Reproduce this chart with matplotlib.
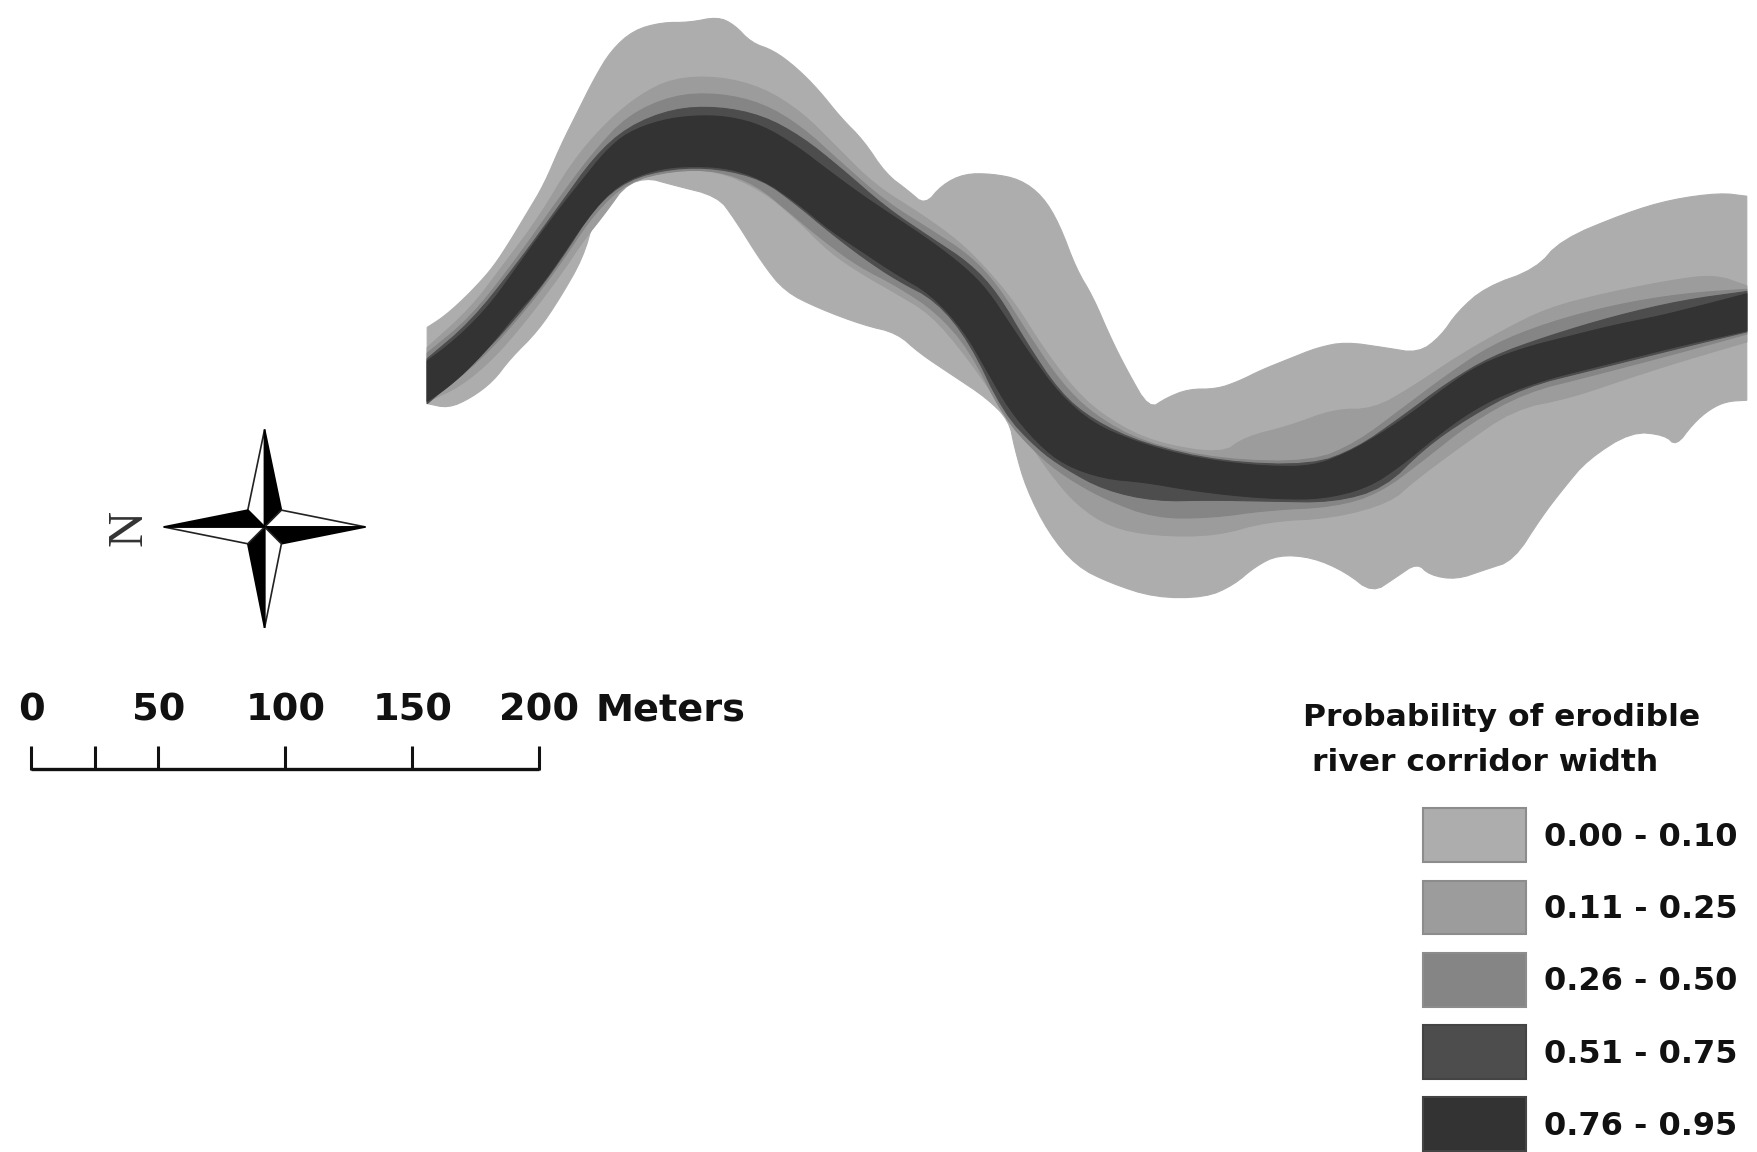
import matplotlib
matplotlib.use("Agg")
import matplotlib.pyplot as plt
from matplotlib.patches import Polygon, Rectangle

# legend classes, lightest (widest) to darkest
class_labels = ["0.00 - 0.10", "0.11 - 0.25", "0.26 - 0.50", "0.51 - 0.75", "0.76 - 0.95"]
class_colors = ["#adadad", "#9c9c9c", "#858585", "#4d4d4d", "#333333"]

# corridor outlines (map x, map y)
band0_upper = [(381,292),(395,283),(410,270),(425,255),(440,238),(455,215),(470,190),(485,165),(500,130),(515,100),
               (530,70),(545,45),(565,27),(590,20),(615,20),(640,15),(655,22),(670,38),(690,45),(710,60),(730,80),
               (750,105),(770,125),(790,155),(810,170),(825,183),(840,165),(860,155),(885,155),(910,160),(930,175),
               (945,200),(960,240),(975,265),(990,300),(1005,330),(1025,365),(1040,355),(1060,347),(1085,347),
               (1105,340),(1125,330),(1150,320),(1175,310),(1200,305),(1235,310),(1265,315),(1285,300),(1300,278),
               (1325,256),(1370,240),(1392,214),(1450,190),(1490,178),(1534,172),(1558,175)]
band0_lower = [(1558,357),(1540,358),(1525,365),(1510,378),(1495,398),(1485,388),(1455,385),(1416,410),(1395,435),
               (1375,461),(1350,500),(1325,508),(1299,517),(1275,513),(1264,502),(1245,515),(1224,529),(1200,510),
               (1170,497),(1140,495),(1120,505),(1100,522),(1075,533),(1030,533),(990,520),(960,505),(935,475),
               (915,435),(905,400),(900,375),(880,355),(850,335),(820,315),(800,297),(770,290),(730,275),(700,260),
               (680,235),(655,195),(640,175),(600,165),(575,158),(550,170),(530,195),(520,230),(500,265),(480,295),
               (455,320),(440,340),(420,355),(400,364),(381,360)]

band1_upper = [(381,310),(420,275),(450,235),(480,195),(510,145),(540,110),(570,85),(600,70),(640,68),(680,78),
               (715,100),(745,130),(780,165),(820,190),(855,215),(880,240),(905,270),(930,310),(960,350),(990,375),
               (1030,395),(1090,405),(1110,390),(1150,380),(1190,365),(1225,365),(1260,345),(1300,318),(1340,295),
               (1380,275),(1430,262),(1490,250),(1530,245),(1558,255)]
band1_lower = [(1558,305),(1500,322),(1450,338),(1400,355),(1350,365),(1300,400),(1260,430),(1240,448),(1190,462),
               (1130,465),(1085,478),(1030,478),(990,470),(960,450),(935,420),(915,390),(890,358),(860,315),(830,280),
               (800,262),(770,245),(740,225),(710,195),(680,170),(640,152),(600,152),(560,162),(540,190),(520,215),
               (500,245),(470,285),(440,320),(410,345),(381,358)]

band2_upper = [(381,315),(420,283),(460,232),(500,175),(530,135),(560,103),(600,85),(640,83),(680,92),(715,113),
               (750,145),(790,180),(830,205),(865,228),(890,255),(915,295),(945,340),(975,370),(1020,395),(1090,410),
               (1170,412),(1210,395),(1250,365),(1290,335),(1330,308),(1380,288),(1440,272),(1500,262),(1558,258)]
band2_lower = [(1558,298),(1500,314),(1420,335),(1360,350),(1310,378),(1270,410),(1230,440),(1190,452),(1130,455),
               (1080,462),(1030,462),(985,445),(950,425),(925,405),(895,372),(865,312),(835,278),(800,255),(765,237),
               (735,215),(705,190),(675,165),(640,152),(600,152),(560,162),(530,190),(500,235),(470,275),(430,320),
               (381,360)]

band3_upper = [(381,320),(420,287),(460,237),(500,182),(530,140),(560,113),(600,97),(640,95),(680,103),(715,122),
               (750,150),(790,185),(830,212),(865,235),(890,262),(915,305),(945,350),(975,375),(1020,396),(1090,412),
               (1170,415),(1210,400),(1250,372),(1290,342),(1330,318),(1380,300),(1440,282),(1500,268),(1558,260)]
band3_lower = [(1558,296),(1500,310),(1420,330),(1360,345),(1310,372),(1270,400),(1235,435),(1190,448),(1130,447),
               (1080,446),(1030,447),(985,437),(950,418),(925,400),(895,368),(865,305),(835,268),(800,250),(770,230),
               (740,207),(710,182),(680,160),(640,150),(600,150),(560,160),(530,185),(500,232),(470,272),(430,317),
               (381,360)]

band4_upper = [(381,322),(400,308),(420,290),(440,268),(460,240),(480,212),(500,185),(520,160),(540,135),(560,118),
               (590,107),(620,103),(650,104),(680,112),(710,130),(740,153),(770,175),(800,195),(830,215),(860,238),
               (880,258),(900,288),(920,318),(945,352),(975,378),(1010,393),(1050,405),(1090,412),(1130,416),(1170,416),
               (1200,405),(1230,388),(1260,368),(1290,345),(1320,325),(1360,310),(1400,300),(1440,290),(1480,282),
               (1520,272),(1558,262)]
band4_lower = [(1558,295),(1500,308),(1460,318),(1420,328),(1380,338),(1340,352),(1310,368),(1280,390),(1250,415),
               (1220,435),(1180,445),(1140,445),(1100,442),(1060,437),(1020,430),(985,427),(950,415),(925,395),(900,365),
               (880,330),(860,295),(830,262),(800,245),(770,225),(740,205),(710,180),(680,160),(650,150),(620,148),
               (590,150),(560,160),(540,175),(520,200),(500,230),(480,258),(460,280),(440,305),(420,327),(400,345),
               (381,358)]

band_uppers = [band0_upper, band1_upper, band2_upper, band3_upper, band4_upper]
band_lowers = [band0_lower, band1_lower, band2_lower, band3_lower, band4_lower]

# scale bar
scale_ticks = [0, 25, 50, 100, 150, 200]
scale_labels = [0, 50, 100, 150, 200]


def round_corners(pts, times=2):
    # corner cutting on an open outline, the two end points stay put
    for _ in range(times):
        new = [pts[0]]
        for i in range(len(pts) - 1):
            x0, y0 = pts[i]
            x1, y1 = pts[i + 1]
            new.append((0.75 * x0 + 0.25 * x1, 0.75 * y0 + 0.25 * y1))
            new.append((0.25 * x0 + 0.75 * x1, 0.25 * y0 + 0.75 * y1))
        new.append(pts[-1])
        pts = new
    return pts


fig = plt.figure(figsize=(17.58, 11.52), dpi=100)
ax = fig.add_axes([0, 0, 1, 1])
ax.set_xlim(0, 1568)
ax.set_ylim(1027.5, 0)
ax.axis("off")

for upper, lower, col in zip(band_uppers, band_lowers, class_colors):
    pts = round_corners(upper) + round_corners(lower)
    ax.add_patch(Polygon(pts, closed=True, facecolor=col, edgecolor=col, linewidth=0.8))

# scale bar: 2.265 map units per metre
def sx(m):
    return 28 + m * 2.265

ax.plot([sx(0), sx(200)], [686, 686], color="#111111", lw=2.4, solid_capstyle="butt")
for m in scale_ticks:
    ax.plot([sx(m), sx(m)], [665, 687], color="#111111", lw=2.2, solid_capstyle="butt")
for m in scale_labels:
    ax.text(sx(m), 634, str(m), ha="center", va="center", fontsize=27.5, fontweight="bold", color="#111111")
ax.text(531, 634, "Meters", ha="left", va="center", fontsize=27.5, fontweight="bold", color="#111111")

# north arrow, pointing left
cx, cy = 236, 470
arm, inner = 90, 15
tips = [(cx, cy - 87), (cx + arm, cy), (cx, cy + 90), (cx - arm, cy)]
shoulders = [(cx + inner, cy - inner), (cx + inner, cy + inner), (cx - inner, cy + inner), (cx - inner, cy - inner)]
for i in range(4):
    # dark half and open half of each point
    ax.add_patch(Polygon([(cx, cy), tips[i], shoulders[i - 1]], closed=True, fc="white", ec="#222222", lw=1.2))
    ax.add_patch(Polygon([(cx, cy), tips[i], shoulders[i]], closed=True, fc="black", ec="black", lw=1.2))
ax.text(115, 471, "N", rotation=90, ha="center", va="center", fontsize=36, family="Liberation Serif", color="#333333")

# legend
ax.text(1162, 640, "Probability of erodible", ha="left", va="center", fontsize=22.6, fontweight="bold", color="#111111")
ax.text(1170, 680, "river corridor width", ha="left", va="center", fontsize=22.6, fontweight="bold", color="#111111")
for i, (lab, col) in enumerate(zip(class_labels, class_colors)):
    y0 = 721 + i * 64.4
    edge = "#8c8c8c" if i < 3 else "#444444"
    ax.add_patch(Rectangle((1269, y0), 92, 48, facecolor=col, edgecolor=edge, linewidth=1.5))
    ax.text(1377, y0 + 26, lab, ha="left", va="center", fontsize=23, fontweight="bold", color="#111111")

fig.savefig("out.png", dpi=100)
